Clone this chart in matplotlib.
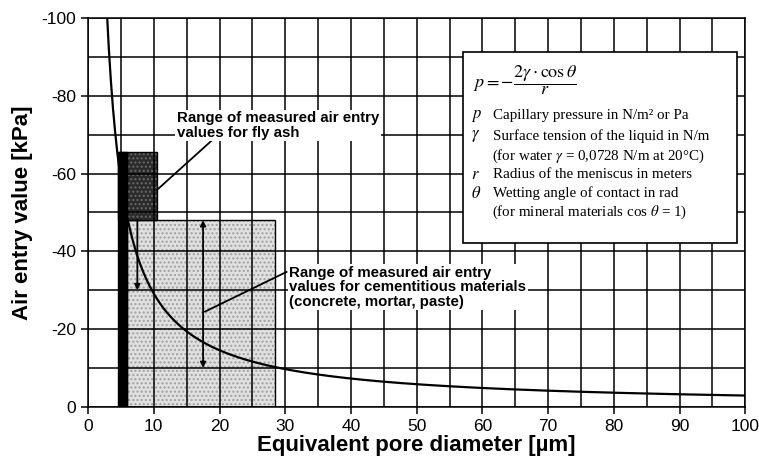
import numpy as np
import matplotlib.pyplot as plt
from matplotlib.patches import Rectangle

# surface tension of water at 20 C [N/m], cos(theta) = 1
GAMMA = 0.0728
COS_THETA = 1.0

# measured ranges (diameter in um, air entry value in kPa)
fly_ash_d = [4.6, 10.5]
fly_ash_p = [-48, -65.5]
fly_ash_bar_d = [4.6, 6.0]
cement_d = [6.0, 28.5]
cement_p = [0, -48]

x_ticks = [0, 10, 20, 30, 40, 50, 60, 70, 80, 90, 100]
y_ticks = [0, -20, -40, -60, -80, -100]

legend_rows = [
    (r"$p$", "Capillary pressure in N/m² or Pa"),
    (r"$\gamma$", "Surface tension of the liquid in N/m"),
    ("", r"(for water $\gamma$ = 0,0728 N/m at 20°C)"),
    (r"$r$", "Radius of the meniscus in meters"),
    (r"$\theta$", "Wetting angle of contact in rad"),
    ("", r"(for mineral materials cos $\theta$ = 1)"),
]


def air_entry_kpa(d_um):
    r = d_um / 2 * 1e-6
    return -2 * GAMMA * COS_THETA / r / 1000


plt.rcParams["font.family"] = ["Liberation Sans", "DejaVu Sans"]
plt.rcParams["mathtext.fontset"] = "stix"

fig = plt.figure(figsize=(7.59, 4.72), dpi=100)
ax = fig.add_axes([0.116, 0.138, 0.866, 0.824])

ax.set_xlim(0, 100)
ax.set_ylim(0, -100)


def shaded_box(x, y, w, h, face, dots, z):
    ax.add_patch(Rectangle((x, y), w, h, facecolor=face, edgecolor="none", zorder=z))
    ax.add_patch(Rectangle((x, y), w, h, facecolor="none", edgecolor=dots,
                           hatch="....", lw=0, zorder=z))
    ax.add_patch(Rectangle((x, y), w, h, facecolor="none", edgecolor="black",
                           lw=1, zorder=z))


# shaded ranges
shaded_box(cement_d[0], cement_p[0], cement_d[1] - cement_d[0],
           cement_p[1] - cement_p[0], "#e0e0e0", "#a0a0a0", 1)
shaded_box(fly_ash_d[0], fly_ash_p[0], fly_ash_d[1] - fly_ash_d[0],
           fly_ash_p[1] - fly_ash_p[0], "#2a2a2a", "#6a6a6a", 1.1)
ax.add_patch(Rectangle((fly_ash_bar_d[0], 0), fly_ash_bar_d[1] - fly_ash_bar_d[0],
                       fly_ash_p[1], facecolor="black", edgecolor="black", lw=1, zorder=1.2))

# capillary pressure curve
d = np.linspace(2.5, 100, 600)
ax.plot(d, air_entry_kpa(d), color="black", lw=1.6, zorder=4)

# range arrows
ax.annotate("", xy=(7.5, -30), xytext=(7.5, fly_ash_p[0]),
            arrowprops=dict(arrowstyle="-|>", color="black", lw=1.3,
                            mutation_scale=8, shrinkA=0, shrinkB=0), zorder=4)
ax.annotate("", xy=(17.5, -10), xytext=(17.5, cement_p[1]),
            arrowprops=dict(arrowstyle="<|-|>", color="black", lw=1.3,
                            mutation_scale=8, shrinkA=0, shrinkB=0), zorder=4)

# annotation labels
label_font = dict(fontsize=10.8, fontweight="bold")
ax.plot([18.9, 10.5], [-68.6, -55.8], color="black", lw=1.3, zorder=4)
ax.text(13.5, -72.3, "Range of measured air entry\nvalues for fly ash",
        ha="left", va="center", linespacing=1.05,
        bbox=dict(facecolor="white", edgecolor="none", pad=1), zorder=5, **label_font)
ax.plot([30.2, 17.8], [-34.7, -24.5], color="black", lw=1.3, zorder=4)
ax.text(30.6, -30.8,
        "Range of measured air entry\nvalues for cementitious materials\n(concrete, mortar, paste)",
        ha="left", va="center", linespacing=1.05,
        bbox=dict(facecolor="white", edgecolor="none", pad=1), zorder=5, **label_font)

# formula box
ax.add_patch(Rectangle((57, -91.3), 41.8, 49.1, facecolor="white",
                       edgecolor="black", lw=1.2, zorder=5))
ax.text(58.6, -84, r"$p = -\dfrac{2\gamma\cdot\cos\theta}{r}$", fontsize=13,
        ha="left", va="center", zorder=6)
row_y = [-74.8, -69.6, -64.5, -59.7, -55.0, -50.0]
for (sym, txt), y in zip(legend_rows, row_y):
    if sym:
        ax.text(58.3, y, sym, fontsize=12, ha="left", va="center", zorder=6)
    ax.text(61.6 if sym else 61.4, y, txt, fontsize=10.8, family="Liberation Serif",
            ha="left", va="center", zorder=6)

# grid and axes
ax.set_xticks(x_ticks)
ax.set_yticks(y_ticks)
ax.set_yticklabels([str(v) for v in y_ticks])
ax.set_xticks(np.arange(0, 101, 5), minor=True)
ax.set_yticks(np.arange(0, -101, -10), minor=True)
ax.grid(which="both", color="black", lw=1.1)
ax.set_axisbelow(False)
ax.tick_params(which="major", length=5, width=1.1, labelsize=12.5, color="black")
ax.tick_params(which="minor", length=0)
for s in ax.spines.values():
    s.set_linewidth(1.1)

ax.set_xlabel("Equivalent pore diameter [µm]", fontsize=16, fontweight="bold", labelpad=1)
ax.set_ylabel("Air entry value [kPa]", fontsize=16, fontweight="bold", labelpad=6)

fig.savefig("out.png", dpi=100)
